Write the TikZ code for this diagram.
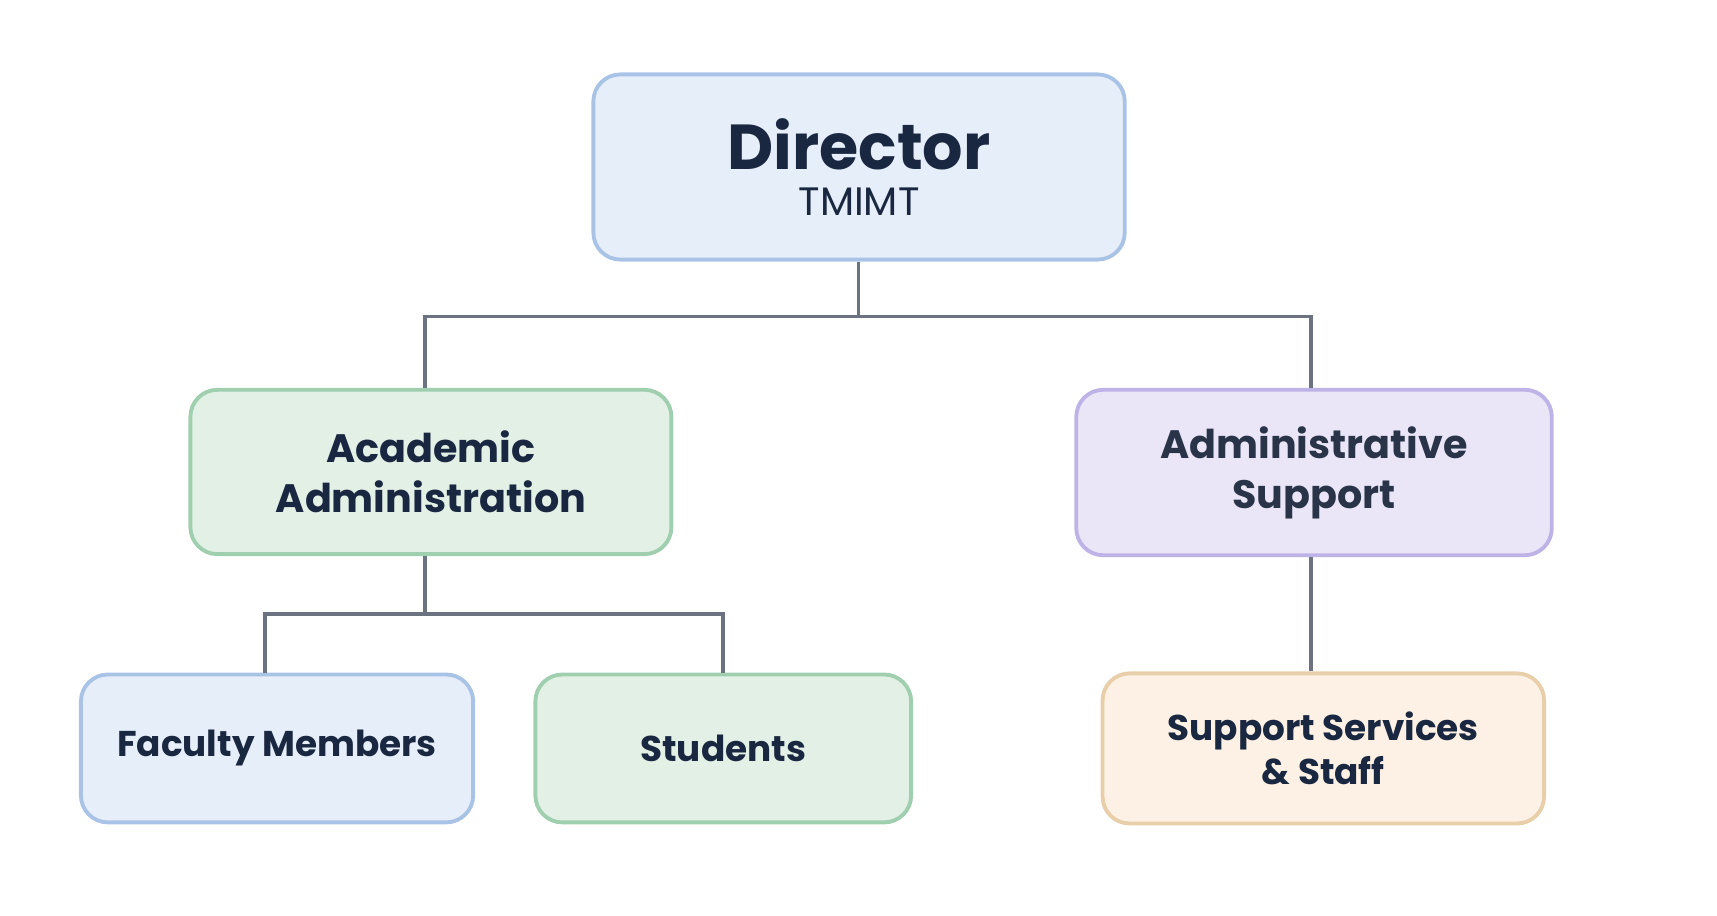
\documentclass[tikz,border=0pt]{standalone}
\usepackage{fontspec}
\setmainfont{Poppins}
\usetikzlibrary{positioning}
\definecolor{txtC}{HTML}{1A2740}
\definecolor{lineC}{HTML}{6B7280}
\definecolor{fillB}{HTML}{E6EEF9}
\definecolor{drawB}{HTML}{A9C3E6}
\definecolor{fillG}{HTML}{E2F0E6}
\definecolor{drawG}{HTML}{9FCFAE}
\definecolor{fillP}{HTML}{EAE6F7}
\definecolor{drawP}{HTML}{BDB3E6}
\definecolor{fillO}{HTML}{FCF1E4}
\definecolor{drawO}{HTML}{E8CFA9}
\tikzset{
    box/.style = {draw=draw#1, fill=fill#1, line width=1pt, rounded corners=7pt,
                  align=center, text=txtC, font=\bfseries\fontsize{10.3}{13}\selectfont},
    boxB/.style = {box=B},
    boxG/.style = {box=G},
    boxP/.style = {box=P},
    boxO/.style = {box=O},
    small/.style = {font=\bfseries\fontsize{9.3}{11.5}\selectfont},
    link/.style = {draw=lineC, line width=1pt}
}
\begin{document}
\begin{tikzpicture}[x=0.01cm, y=-0.01cm]
    \useasboundingbox (0,0) rectangle (1568,836);
    % boxes
    \node[boxB, minimum width=4.85cm, minimum height=1.69cm] (dir) at (784.5,152.5)
        {{\fontsize{16.5}{20}\selectfont Director}\\[-1pt]{\mdseries\fontsize{10.3}{13}\selectfont TMIMT}};
    \node[boxG, minimum width=4.39cm, minimum height=1.50cm] (acad) at (393.5,431)
        {Academic\\Administration};
    \node[boxP, minimum width=4.34cm, minimum height=1.51cm] (adm) at (1200,431.5)
        {\color{txtC!85!gray}Administrative\\\color{txtC!85!gray}Support};
    \node[boxB, small, minimum width=3.58cm, minimum height=1.35cm] (fac) at (253,683.5)
        {Faculty Members};
    \node[boxG, small, minimum width=3.43cm, minimum height=1.35cm] (stu) at (660.5,683.5)
        {Students};
    \node[boxO, small, minimum width=4.03cm, minimum height=1.37cm] (sup) at (1208.5,683.5)
        {Support Services\\\& Staff};
    % connectors
    \coordinate (busA) at (784,289);
    \coordinate (busB) at (388,561);
    \draw[link] (busA |- dir.south) -- (busA);
    \draw[link] (busA) -| (acad.north -| busB);
    \draw[link] (busA) -| (adm.north -| 1197,0);
    \draw[link] (acad.south -| busB) -- (busB);
    \draw[link] (busB) -| (fac.north -| 242,0);
    \draw[link] (busB) -| (stu.north);
    \draw[link] (adm.south -| 1197,0) -- (sup.north -| 1197,0);
\end{tikzpicture}
\end{document}
